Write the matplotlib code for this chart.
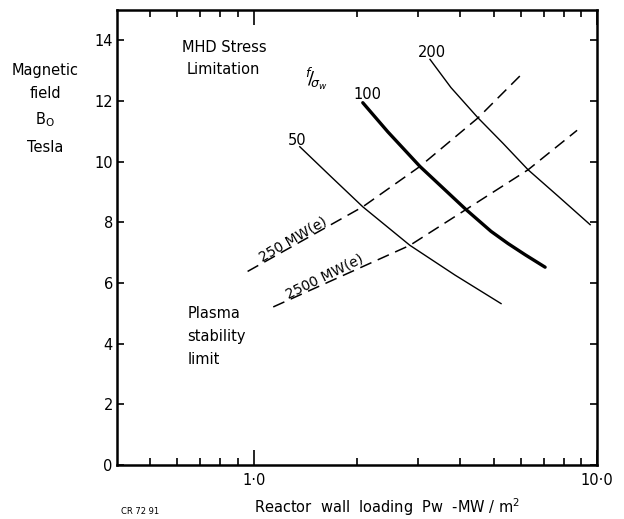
import numpy as np
import matplotlib
matplotlib.use('Agg')
import matplotlib.pyplot as plt
from matplotlib.ticker import FixedLocator, NullFormatter

plt.rcParams['font.family'] = ['DejaVu Sans']
plt.rcParams['mathtext.fontset'] = 'dejavusans'

# ---- data (x: wall loading MW/m2, y: B0 Tesla) ----
x_fs50 = [1.362, 1.677, 2.078, 2.850, 3.855, 5.250]
y_fs50 = [10.49, 9.51, 8.51, 7.24, 6.26, 5.32]

x_fs100 = [2.078, 2.458, 3.048, 4.15, 4.91, 5.50, 6.17, 7.054]
y_fs100 = [11.94, 10.98, 9.84, 8.42, 7.70, 7.30, 6.93, 6.52]

x_fs200 = [3.260, 3.752, 4.499, 5.321, 6.293, 7.696, 9.541]
y_fs200 = [13.37, 12.44, 11.44, 10.60, 9.73, 8.86, 7.92]

x_250mw = [0.96, 2.078, 3.048, 4.499, 6.09]
y_250mw = [6.38, 8.51, 9.84, 11.44, 12.93]

x_2500mw = [1.14, 2.850, 4.15, 6.293, 8.74]
y_2500mw = [5.21, 7.24, 8.42, 9.73, 11.03]

y_ticks = [0, 2, 4, 6, 8, 10, 12, 14]
y_ticklabels = ['0', '2', '4', '6', '8', '10', '12', '14']
x_major = [1.0, 10.0]
x_major_labels = ['1·0', '10·0']
x_minor = [0.5, 0.6, 0.7, 0.8, 0.9, 2, 3, 4, 5, 6, 7, 8, 9]

fig = plt.figure(figsize=(6.24, 5.19), dpi=100)
ax = fig.add_axes([0.1875, 0.104, 0.7695, 0.877])

ax.set_xscale('log')
ax.set_xlim(0.4, 10)
ax.set_ylim(0, 15)

# f/sigma_w curves
ax.plot(x_fs50, y_fs50, color='black', lw=1.0)
ax.plot(x_fs100, y_fs100, color='black', lw=2.4, solid_capstyle='round',
        solid_joinstyle='round')
ax.plot(x_fs200, y_fs200, color='black', lw=1.0)

# power lines (dashed)
ax.plot(x_250mw, y_250mw, color='black', lw=1.1, dashes=(8, 4.5))
ax.plot(x_2500mw, y_2500mw, color='black', lw=1.1, dashes=(8, 4.5))

# ticks
ax.xaxis.set_major_locator(FixedLocator(x_major))
ax.set_xticklabels(x_major_labels)
ax.xaxis.set_minor_locator(FixedLocator(x_minor))
ax.xaxis.set_minor_formatter(NullFormatter())
ax.set_yticks(y_ticks)
ax.set_yticklabels(y_ticklabels)
ax.tick_params(which='both', direction='in', top=True, right=True,
               width=1.2, labelsize=10.5, colors='black')
ax.tick_params(axis='x', which='major', length=11, pad=6)
ax.tick_params(axis='x', which='minor', length=5)
ax.tick_params(axis='y', which='major', length=5, pad=3)
for s in ax.spines.values():
    s.set_linewidth(1.8)

# annotations inside the plot
ax.text(0.62, 13.76, 'MHD Stress', fontsize=10.5, ha='left', va='center')
ax.text(0.64, 13.04, 'Limitation', fontsize=10.5, ha='left', va='center')
ax.text(1.52, 12.72, r'$^{f}\!/\!_{\sigma_w}$', fontsize=13, ha='center', va='center')
ax.text(1.34, 10.68, '50', fontsize=10.5, ha='center', va='center')
ax.text(2.14, 12.2, '100', fontsize=10.5, ha='center', va='center')
ax.text(3.30, 13.6, '200', fontsize=10.5, ha='center', va='center')
ax.text(1.30, 7.45, '250 MW(e)', fontsize=10, ha='center', va='center',
        rotation=30, rotation_mode='anchor')
ax.text(1.61, 6.22, '2500 MW(e)', fontsize=10, ha='center', va='center',
        rotation=26, rotation_mode='anchor')
ax.text(0.642, 4.99, 'Plasma', fontsize=10.5, ha='left', va='center')
ax.text(0.642, 4.22, 'stability', fontsize=10.5, ha='left', va='center')
ax.text(0.642, 3.47, 'limit', fontsize=10.5, ha='left', va='center')

# axis titles
fig.text(45 / 624, 1 - 71 / 519, 'Magnetic', fontsize=10.5, ha='center', va='center')
fig.text(45 / 624, 1 - 93 / 519, 'field', fontsize=10.5, ha='center', va='center')
fig.text(45 / 624, 1 - 120 / 519, r'B$_\mathregular{O}$', fontsize=10.5, ha='center', va='center')
fig.text(45 / 624, 1 - 147 / 519, 'Tesla', fontsize=10.5, ha='center', va='center')
fig.text(387 / 624, 1 - 507 / 519, 'Reactor  wall  loading  Pw  -MW / m$^2$',
         fontsize=10.5, ha='center', va='center')
fig.text(140 / 624, 1 - 511 / 519, 'CR 72 91', fontsize=6, ha='center', va='center')

fig.savefig('out.png', dpi=100)
